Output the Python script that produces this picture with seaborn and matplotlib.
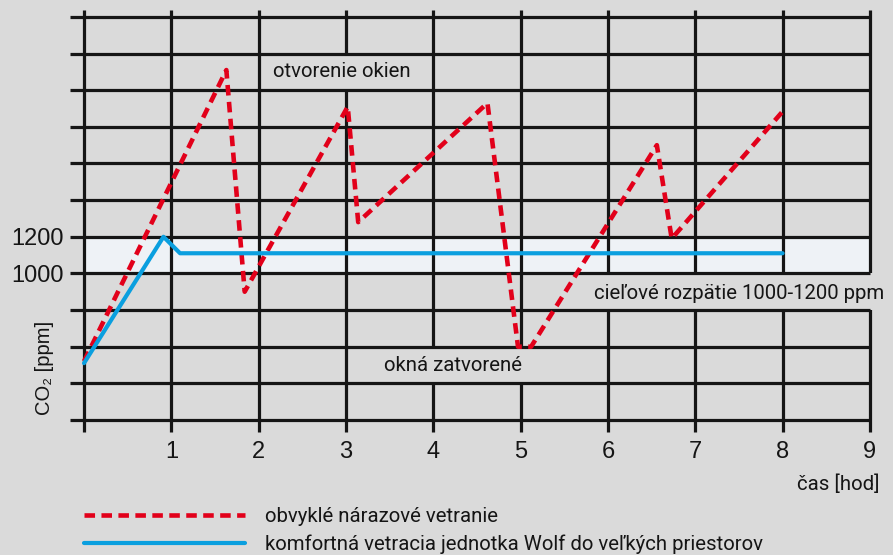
import matplotlib.pyplot as plt
import seaborn as sns
import pandas as pd
from matplotlib.patches import Rectangle

# CO2 course over time
hours_std = [0, 1.63, 1.84, 3.02, 3.14, 4.62, 4.97, 5.12, 6.56, 6.73, 8.03]
co2_std = [520, 2110, 900, 1910, 1280, 1930, 600, 600, 1700, 1190, 1900]
hours_wolf = [0, 0.91, 1.10, 8.0]
co2_wolf = [510, 1200, 1110, 1110]

grid_hours = list(range(0, 10))
grid_ppm = list(range(200, 2401, 200))
x_ticks = list(range(1, 10))
y_ticks = [1000, 1200]
target_low, target_high = 1000, 1200

label_std = "obvyklé nárazové vetranie"
label_wolf = "komfortná vetracia jednotka Wolf do veľkých priestorov"

BG = "#dadada"
BAND = "#eef2f6"
RED = "#e2001a"
BLUE = "#0a9fdf"
INK = "#151515"

sns.set_theme(style="white")
plt.rcParams["font.family"] = ["Roboto", "DejaVu Sans"]
NUM_FONT = ["Liberation Sans", "DejaVu Sans"]

df_std = pd.DataFrame({"hod": hours_std, "ppm": co2_std})
df_wolf = pd.DataFrame({"hod": hours_wolf, "ppm": co2_wolf})

fig = plt.figure(figsize=(8.93, 5.55), dpi=100, facecolor=BG)
ax = fig.add_axes([0.0711, 0.2103, 0.9275, 0.7856])
ax.set_facecolor(BG)
ax.set_xlim(-0.235, 9.25)
ax.set_ylim(100, 2480)
for s in ax.spines.values():
    s.set_visible(False)

# target band
ax.fill_between([0, 9], target_low, target_high, color=BAND, lw=0, zorder=0.5)

# grid
ax.vlines(grid_hours, 135, 2438, color=INK, lw=2.3, zorder=1)
# label boxes hide the vertical lines behind the notes
for x0, x1, y0, y1 in [(2.04, 3.94, 2000, 2200), (3.3, 5.12, 400, 600), (5.77, 9.4, 800, 1000)]:
    ax.add_patch(Rectangle((x0, y0), x1 - x0, y1 - y0, facecolor=BG, edgecolor="none", zorder=1.5))
ax.hlines(grid_ppm, -0.16, 9.0, color=INK, lw=2.3, zorder=2)

# data lines
sns.lineplot(data=df_std, x="hod", y="ppm", ax=ax, color=RED, linewidth=3.3,
             linestyle=(0, (2.3, 1.4)), estimator=None, sort=False, zorder=3, label=label_std)
sns.lineplot(data=df_wolf, x="hod", y="ppm", ax=ax, color=BLUE, linewidth=3.0,
             estimator=None, sort=False, zorder=3, label=label_wolf)

# notes
ax.text(2.95, 2100, "otvorenie okien", fontsize=14.7, color=INK, ha="center", va="center", zorder=4)
ax.text(4.23, 500, "okná zatvorené", fontsize=14.7, color=INK, ha="center", va="center", zorder=4)
ax.text(5.84, 890, "cieľové rozpätie 1000-1200 ppm", fontsize=14.7, color=INK,
        ha="left", va="center", zorder=4)

# axes labels and ticks
ax.set_xticks(x_ticks)
ax.set_xticklabels([str(t) for t in x_ticks], fontfamily=NUM_FONT, fontsize=17, color=INK)
ax.set_yticks(y_ticks)
ax.set_yticklabels([str(t) for t in y_ticks], fontfamily=NUM_FONT, fontsize=17, color=INK)
ax.tick_params(axis="x", length=0, pad=2)
ax.tick_params(axis="y", length=0, pad=0)

ax.set_xlabel("čas [hod]", fontsize=14.7, color=INK, loc="right")
ax.xaxis.set_label_coords(0.9857, -0.082)
ax.set_ylabel("CO₂ [ppm]", fontsize=14.5, color=INK, fontfamily=NUM_FONT)
ax.yaxis.set_label_coords(-0.0115, 0.161)

# legend below the chart
handles = ax.get_lines()[:2]
ax.legend(handles=handles, labels=[label_std, label_wolf], loc="upper left",
          bbox_to_anchor=(84 / 893, 1 - 507 / 555), bbox_transform=fig.transFigure,
          frameon=False, fontsize=14.7, handlelength=7.9, handletextpad=0.98,
          labelspacing=0.4, borderpad=0, borderaxespad=0, labelcolor=INK)

fig.savefig("out.png", dpi=100, facecolor=BG)
